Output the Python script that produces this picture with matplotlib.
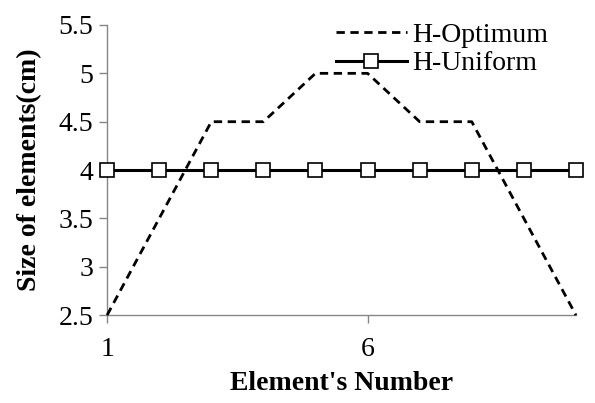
import matplotlib
matplotlib.use("Agg")
import matplotlib.pyplot as plt
import numpy as np

elements = [1, 2, 3, 4, 5, 6, 7, 8, 9, 10]
h_optimum = [2.5, 3.5, 4.5, 4.5, 5.0, 5.0, 4.5, 4.5, 3.5, 2.5]
h_uniform = [4, 4, 4, 4, 4, 4, 4, 4, 4, 4]

plt.rcParams["font.family"] = ["Liberation Serif", "DejaVu Serif"]
axis_grey = "#868686"

fig = plt.figure(figsize=(5.95, 4.03), dpi=100)
ax = fig.add_axes([0.180, 0.218, 0.788, 0.720])

ax.plot(elements, h_optimum, color="black", linestyle=(0, (3, 2)), linewidth=2.0,
        label="H-Optimum", clip_on=False, zorder=3)
ax.plot(elements, h_uniform, color="black", linewidth=2.2, marker="s", markersize=10,
        markerfacecolor="white", markeredgecolor="black", markeredgewidth=1.2,
        label="H-Uniform", clip_on=False, zorder=4)

ax.set_xlim(1, 10)
ax.set_ylim(2.5, 5.5)
ax.set_xticks([1, 6])
ax.set_yticks(np.arange(2.5, 5.51, 0.5))
ax.set_yticklabels(["2.5", "3", "3.5", "4", "4.5", "5", "5.5"])

for side in ["top", "right"]:
    ax.spines[side].set_visible(False)
for side in ["left", "bottom"]:
    ax.spines[side].set_color(axis_grey)
    ax.spines[side].set_linewidth(1.0)
ax.tick_params(axis="both", colors=axis_grey, labelcolor="black", labelsize=20,
               length=6, width=1.0)
ax.tick_params(axis="x", pad=10)
ax.tick_params(axis="y", pad=4)

ax.set_xlabel("Element's Number", fontsize=20, fontweight="bold", labelpad=6)
ax.set_ylabel("Size of elements(cm)", fontsize=20, fontweight="bold", labelpad=12)

ax.legend(loc="upper left", bbox_to_anchor=(0.488, 1.01), frameon=False, fontsize=20,
          handlelength=2.55, handletextpad=0.2, labelspacing=0.12, borderaxespad=0,
          borderpad=0)

fig.savefig("out.png", dpi=100)
